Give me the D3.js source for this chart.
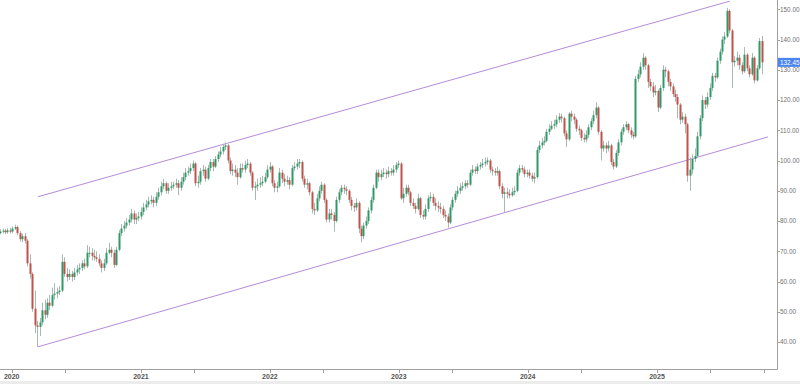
<!DOCTYPE html>
<html>
<head>
<meta charset="utf-8">
<script src="https://cdn.jsdelivr.net/npm/d3@7"></script>
<style>
  body { margin: 0; background: #fff; }
  svg { display: block; font-family: "Liberation Sans", Arial, sans-serif; }
</style>
</head>
<body>
<div id="chart"></div>
<script>
// weekly candles, first one starts on this date
var firstWeek = "2019-11-29";
var firstOpen = 76.0;

var closes = [
  76.5, 76.8, 76.3, 76.9, 76.5, 77.5, 78.0, 76.0, 74.0, 75.0,
  73.5, 66.0, 62.5, 51.0, 45.5, 45.0, 46.5, 50.5, 49.0, 53.0,
  52.0, 55.5, 56.0, 56.5, 57.0, 66.5, 62.5, 61.5, 62.5, 61.5,
  63.0, 64.0, 64.5, 66.0, 65.0, 69.5, 69.5, 68.5, 68.0, 67.5,
  66.0, 64.5, 66.0, 69.5, 70.5, 69.5, 65.5, 70.5, 76.0, 77.5,
  78.5, 79.5, 80.5, 82.5, 80.5, 81.0, 81.5, 83.0, 84.5, 85.5,
  86.5, 87.0, 86.0, 88.0, 89.5, 91.5, 92.5, 90.0, 91.0, 91.5,
  92.0, 92.5, 91.0, 93.0, 94.5, 96.0, 96.5, 97.5, 99.0, 92.5,
  93.0, 96.5, 97.0, 94.0, 97.5, 99.5, 98.0, 100.5, 102.0, 103.0,
  104.5, 105.0, 100.0, 96.5, 97.0, 96.0, 94.5, 97.5, 97.0, 98.5,
  99.0, 96.0, 91.0, 91.5, 92.0, 92.5, 93.0, 94.5, 97.0, 98.0,
  92.5, 91.0, 91.5, 96.0, 94.0, 93.0, 93.5, 92.0, 97.5, 98.0,
  99.0, 99.5, 94.0, 92.0, 92.5, 89.5, 84.0, 83.5, 87.5, 90.0,
  92.0, 87.0, 80.5, 82.5, 82.0, 80.0, 87.0, 89.5, 91.0, 90.5,
  90.0, 87.0, 85.0, 84.5, 86.0, 77.5, 75.0, 78.5, 80.0, 83.5,
  87.0, 91.0, 96.0, 94.5, 95.5, 96.0, 95.5, 96.5, 96.0, 97.0,
  98.5, 99.0, 87.5, 89.0, 91.0, 89.5, 86.0, 85.0, 84.0, 87.5,
  82.0, 81.5, 84.0, 87.5, 88.0, 86.0, 85.0, 84.5, 84.0, 82.0,
  81.5, 79.5, 84.5, 87.0, 89.0, 90.0, 91.0, 91.5, 92.5, 92.0,
  96.0, 97.0, 96.5, 98.0, 98.5, 99.0, 99.5, 100.0, 97.0, 96.5,
  96.0, 96.5, 91.5, 89.0, 89.5, 89.0, 88.5, 89.5, 90.0, 96.0,
  97.5, 97.0, 95.5, 96.0, 95.0, 94.0, 94.5, 103.5, 105.0, 106.0,
  106.5, 109.5, 110.5, 111.5, 112.0, 113.5, 114.5, 114.0, 109.0, 107.0,
  115.5, 114.5, 113.5, 110.5, 110.0, 107.5, 107.0, 108.5, 111.0, 113.0,
  115.0, 117.5, 109.5, 104.0, 105.0, 104.0, 105.0, 99.5, 98.0, 102.5,
  106.0, 109.5, 111.0, 112.0, 110.0, 108.5, 108.0, 127.0, 128.5, 131.0,
  134.0, 131.5, 126.0, 124.5, 122.5, 123.0, 117.5, 124.0, 130.0, 129.5,
  126.0, 124.5, 122.0, 121.0, 118.5, 113.5, 114.5, 112.0, 95.0, 97.0,
  100.5, 101.5, 108.0, 114.0, 120.0, 118.5, 121.0, 124.0, 128.0, 127.5,
  133.0, 136.0, 140.0, 141.0, 149.5, 143.0, 132.5, 133.0, 134.0, 131.5,
  129.5, 135.0, 130.5, 128.5, 134.0, 126.5, 130.5, 139.5, 132.45
];

var highs = [
  77.3, 77.5, 77.4, 77.6, 77.8, 78.2, 78.8, 78.5, 76.6, 75.8,
  76.0, 74.0, 69.0, 63.0, 57.0, 47.0, 48.0, 53.0, 54.0, 54.5,
  55.5, 58.0, 59.5, 58.0, 58.5, 69.0, 68.0, 64.5, 64.0, 63.5,
  64.5, 65.5, 66.0, 67.0, 67.5, 72.0, 71.5, 71.0, 70.5, 70.0,
  69.0, 67.0, 67.5, 71.0, 72.8, 71.5, 70.5, 71.5, 77.0, 79.0,
  80.0, 81.0, 82.0, 84.0, 83.5, 82.5, 83.0, 84.5, 86.0, 87.0,
  88.0, 88.5, 88.0, 89.5, 91.0, 93.0, 94.0, 93.0, 92.5, 93.0,
  93.0, 94.0, 93.5, 94.5, 96.0, 97.5, 98.0, 99.0, 100.0, 99.5,
  95.0, 97.5, 98.5, 98.0, 98.5, 100.5, 100.5, 101.5, 103.0, 104.5,
  105.5, 106.0, 105.5, 101.0, 99.0, 98.5, 97.5, 99.0, 99.0, 100.0,
  100.5, 99.5, 96.5, 93.0, 94.0, 94.5, 95.0, 96.0, 98.5, 99.5,
  98.5, 93.5, 93.0, 97.5, 97.0, 95.5, 95.0, 94.5, 98.5, 99.5,
  100.5, 100.5, 100.0, 95.0, 94.0, 93.0, 90.0, 86.0, 89.0, 91.5,
  93.0, 92.5, 87.5, 84.0, 84.0, 83.0, 88.0, 90.5, 92.0, 92.0,
  91.5, 90.5, 88.0, 86.0, 87.5, 86.5, 78.5, 79.5, 81.5, 84.5,
  88.0, 92.0, 97.0, 97.0, 97.0, 97.5, 97.0, 98.0, 97.5, 98.5,
  99.5, 100.0, 99.5, 91.0, 92.0, 92.0, 90.0, 87.5, 86.0, 89.0,
  88.0, 83.5, 85.5, 88.5, 89.5, 89.0, 87.5, 86.5, 86.0, 85.0,
  83.5, 82.5, 85.5, 88.0, 90.0, 91.5, 92.5, 93.0, 93.5, 93.5,
  97.0, 98.5, 98.0, 99.0, 99.5, 100.5, 101.0, 101.0, 100.5, 98.0,
  97.5, 98.0, 97.0, 92.5, 91.0, 91.0, 90.5, 91.0, 91.5, 97.0,
  98.5, 98.5, 98.0, 97.0, 97.0, 96.0, 96.0, 104.5, 106.5, 107.5,
  108.0, 110.5, 112.0, 113.0, 113.5, 115.0, 115.7, 115.5, 114.5, 110.0,
  116.0, 116.5, 115.5, 114.0, 111.5, 110.5, 109.0, 110.0, 112.0, 114.0,
  116.5, 119.3, 118.0, 110.0, 106.5, 106.0, 106.5, 105.5, 100.5, 103.5,
  107.0, 110.5, 112.0, 113.0, 112.5, 111.0, 109.5, 128.0, 130.0, 132.5,
  135.5, 134.5, 132.0, 127.0, 126.0, 125.0, 123.5, 125.0, 131.5, 131.0,
  130.0, 127.0, 125.5, 123.5, 122.0, 119.0, 116.0, 115.5, 112.5, 101.0,
  102.0, 104.0, 109.5, 115.0, 121.5, 121.0, 122.5, 125.5, 129.0, 129.0,
  134.0, 137.0, 141.0, 142.5, 150.5, 150.0, 143.5, 134.5, 136.0, 135.0,
  132.5, 137.5, 135.5, 131.5, 135.5, 134.5, 131.5, 140.5, 141.2
];

var lows = [
  75.6, 75.9, 75.7, 75.8, 75.9, 76.0, 77.0, 75.3, 73.2, 73.0,
  72.5, 65.0, 61.0, 50.0, 43.0, 38.4, 42.0, 45.5, 47.5, 48.0,
  50.5, 51.5, 54.0, 54.5, 55.5, 56.5, 61.5, 60.0, 60.5, 60.0,
  60.5, 62.0, 62.5, 63.5, 64.0, 64.5, 68.0, 67.0, 67.0, 66.5,
  65.0, 63.0, 63.5, 65.5, 69.0, 68.0, 64.5, 65.0, 70.0, 75.0,
  76.5, 77.5, 78.5, 79.5, 79.0, 79.0, 80.0, 80.5, 82.0, 83.5,
  84.5, 85.5, 84.5, 85.0, 87.0, 88.5, 90.5, 89.0, 89.0, 90.0,
  90.5, 91.0, 88.5, 90.0, 92.0, 93.5, 95.0, 95.5, 96.5, 91.5,
  91.0, 92.0, 95.0, 93.0, 93.5, 96.5, 96.5, 97.5, 99.5, 101.0,
  102.0, 103.5, 99.0, 95.5, 95.0, 94.5, 92.0, 94.0, 96.0, 96.0,
  97.5, 95.0, 90.0, 87.0, 90.0, 91.0, 91.5, 92.5, 94.0, 96.0,
  91.5, 89.5, 89.5, 91.0, 92.5, 91.5, 92.0, 90.5, 91.5, 96.5,
  97.0, 97.5, 93.0, 91.0, 90.5, 88.5, 82.5, 82.0, 83.0, 86.5,
  89.0, 86.0, 79.5, 79.5, 80.5, 76.5, 79.5, 86.0, 88.5, 89.0,
  88.5, 86.0, 83.5, 83.0, 83.5, 76.0, 73.0, 74.0, 77.5, 79.0,
  82.5, 86.0, 90.5, 93.0, 93.5, 94.5, 94.0, 94.5, 95.0, 95.0,
  96.0, 97.5, 87.0, 86.0, 88.0, 88.5, 85.0, 84.0, 82.5, 83.5,
  81.0, 80.5, 80.5, 83.0, 86.5, 85.0, 83.5, 83.0, 82.5, 81.0,
  80.0, 77.8, 79.0, 83.5, 86.0, 88.0, 89.0, 90.0, 90.5, 91.0,
  91.5, 95.0, 95.5, 95.5, 97.0, 97.5, 98.0, 98.5, 96.0, 95.0,
  95.0, 95.0, 90.5, 87.5, 83.0, 87.5, 87.5, 88.0, 88.5, 89.5,
  95.0, 96.0, 94.5, 94.5, 94.0, 93.0, 92.5, 94.0, 102.5, 104.0,
  105.0, 106.0, 108.5, 110.0, 110.5, 111.0, 112.5, 112.5, 108.0, 104.5,
  106.5, 113.0, 112.0, 109.5, 108.5, 106.5, 106.0, 106.0, 107.5, 110.0,
  112.0, 114.0, 108.5, 100.0, 103.0, 102.5, 103.0, 98.5, 97.0, 97.5,
  101.5, 105.0, 108.5, 110.0, 109.0, 107.5, 107.0, 107.5, 126.0, 127.5,
  130.0, 130.0, 124.0, 123.0, 121.0, 121.5, 116.0, 117.0, 123.0, 127.5,
  124.5, 123.0, 121.0, 119.5, 114.0, 112.0, 112.5, 109.0, 93.0, 90.0,
  95.5, 99.5, 101.0, 107.0, 113.0, 117.0, 117.5, 120.0, 123.0, 126.0,
  127.0, 132.0, 135.0, 138.5, 140.5, 142.0, 124.0, 131.0, 131.5, 130.0,
  128.5, 129.0, 129.5, 127.5, 128.0, 125.5, 126.0, 130.0, 128.5
];

var lastPrice = 132.45;
var yearTicks = ["2020", "2021", "2022", "2023", "2024", "2025"];
var minorTicks = ["2020-06-01", "2021-06-01", "2022-06-01", "2023-06-01", "2024-06-01", "2025-06-01", "2025-11-01"];
var priceTicks = [40, 50, 60, 70, 80, 90, 100, 110, 120, 130, 140, 150];

// channel lines [date, price]
var upperChannel = [["2020-03-15", 88.0], ["2025-07-26", 152.7]];
var lowerChannel = [["2020-03-15", 38.4], ["2025-11-11", 107.8]];

var width = 800, height = 384;
var plotRight = 777, plotBottom = 369;
var parse = d3.timeParse("%Y-%m-%d");

var svg = d3.select("#chart").append("svg")
    .attr("width", width)
    .attr("height", height);

var x = d3.scaleTime()
    .domain([parse("2020-01-01"), parse("2025-01-01")])
    .range([11.7, 657]);
var y = d3.scaleLinear()
    .domain([40, 150])
    .range([342, 9.3]);

// build candles, open = previous close
var start = parse(firstWeek);
var candles = closes.map(function (c, i) {
    return {
        date: d3.timeDay.offset(start, 7 * i),
        open: i == 0 ? firstOpen : closes[i - 1],
        close: c,
        high: highs[i],
        low: lows[i]
    };
});

svg.append("clipPath").attr("id", "plot")
    .append("rect").attr("x", 0).attr("y", 0).attr("width", plotRight).attr("height", plotBottom);

var g = svg.append("g").attr("clip-path", "url(#plot)");

// channel
var line = d3.line()
    .x(function (d) { return x(parse(d[0])); })
    .y(function (d) { return y(d[1]); });
[upperChannel, lowerChannel].forEach(function (ch) {
    g.append("path")
        .attr("d", line(ch))
        .attr("fill", "none")
        .attr("stroke", "#b68ad9")
        .attr("stroke-width", 1);
});

var cg = g.selectAll("g.candle").data(candles).enter().append("g").attr("class", "candle");
cg.append("line")
    .attr("x1", function (d) { return Math.round(x(d.date)) + 0.5; })
    .attr("x2", function (d) { return Math.round(x(d.date)) + 0.5; })
    .attr("y1", function (d) { return y(d.high); })
    .attr("y2", function (d) { return y(d.low); })
    .attr("stroke", "#a9b8b0")
    .attr("stroke-width", 1);
cg.append("rect")
    .attr("x", function (d) { return Math.round(x(d.date)) - 0.5; })
    .attr("width", 2)
    .attr("y", function (d) { return y(Math.max(d.open, d.close)); })
    .attr("height", function (d) { return Math.max(1, Math.abs(y(d.open) - y(d.close))); })
    .attr("fill", function (d) { return d.close >= d.open ? "#2f9a68" : "#c0524b"; });

// axes
svg.append("line").attr("x1", plotRight + 0.5).attr("x2", plotRight + 0.5)
    .attr("y1", 0).attr("y2", plotBottom + 0.5).attr("stroke", "#a0a0a0");
svg.append("line").attr("x1", 0).attr("x2", plotRight + 0.5)
    .attr("y1", plotBottom + 0.5).attr("y2", plotBottom + 0.5).attr("stroke", "#a0a0a0");

svg.selectAll("line.ytick").data(priceTicks).enter().append("line")
    .attr("x1", plotRight).attr("x2", plotRight + 3)
    .attr("y1", function (d) { return Math.round(y(d)) + 0.5; })
    .attr("y2", function (d) { return Math.round(y(d)) + 0.5; })
    .attr("stroke", "#a0a0a0");
svg.selectAll("text.ylab").data(priceTicks).enter().append("text")
    .attr("x", 780)
    .attr("y", function (d) { return y(d) + 2.4; })
    .attr("font-size", 6.4)
    .attr("fill", "#707070")
    .text(function (d) { return d3.format(".2f")(d); });

svg.selectAll("line.xtick").data(yearTicks.map(function (t) { return t + "-01-01"; }).concat(minorTicks))
    .enter().append("line")
    .attr("x1", function (d) { return Math.round(x(parse(d))) + 0.5; })
    .attr("x2", function (d) { return Math.round(x(parse(d))) + 0.5; })
    .attr("y1", plotBottom + 1).attr("y2", plotBottom + 4)
    .attr("stroke", "#a0a0a0");
svg.selectAll("text.xlab").data(yearTicks).enter().append("text")
    .attr("x", function (d) { return x(parse(d + "-01-01")); })
    .attr("y", 379)
    .attr("text-anchor", "middle")
    .attr("font-size", 7)
    .attr("font-weight", "bold")
    .attr("fill", "#555")
    .text(function (d) { return d; });

// last price label
svg.append("rect")
    .attr("x", plotRight + 1).attr("y", y(lastPrice) - 4.5)
    .attr("width", 30).attr("height", 9)
    .attr("fill", "#4a84ee");
svg.append("text")
    .attr("x", 780).attr("y", y(lastPrice) + 2.4)
    .attr("font-size", 6.4)
    .attr("fill", "#fff")
    .text(d3.format(".2f")(lastPrice));

// bottom strip
svg.append("rect").attr("x", 0).attr("y", 381).attr("width", width).attr("height", 3).attr("fill", "#ececec");
</script>
</body>
</html>
